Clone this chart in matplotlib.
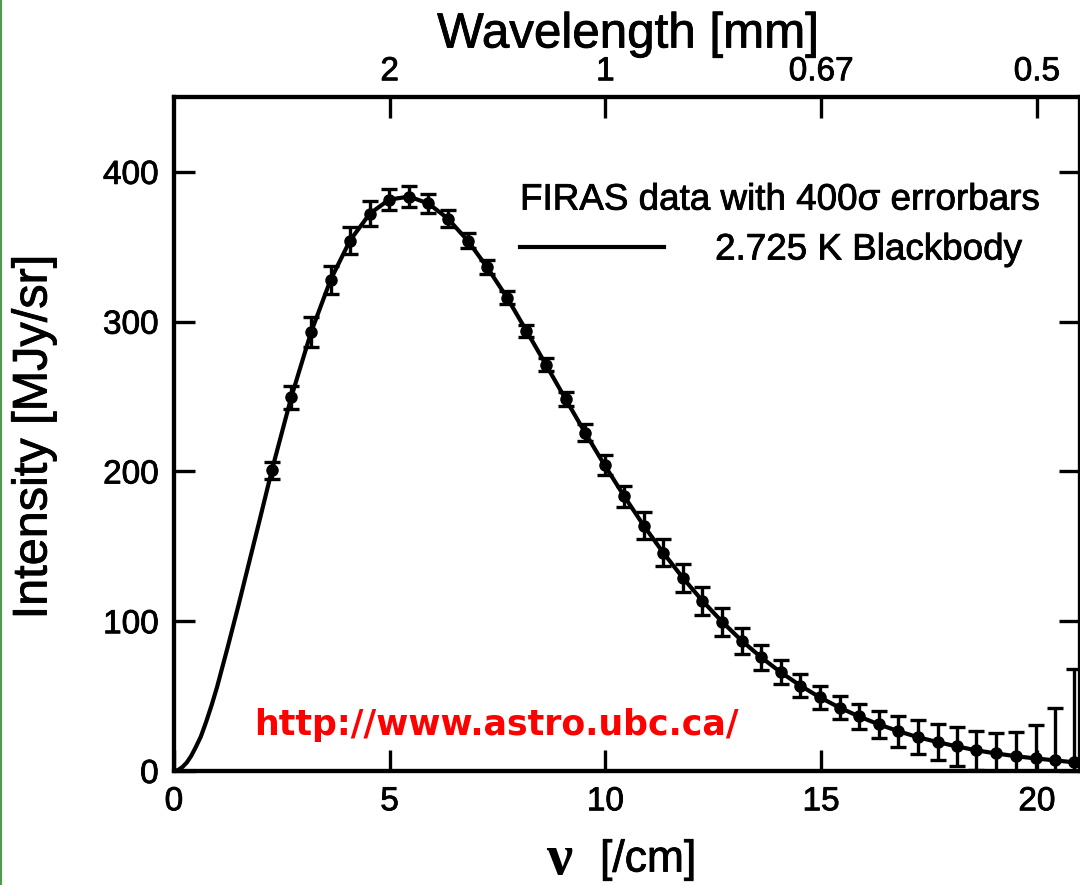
import matplotlib
matplotlib.use("Agg")
import matplotlib.pyplot as plt
import matplotlib.patheffects as pe
from matplotlib.lines import Line2D

# ── Data ───────────────────────────────────────────────────────────
# FIRAS monopole spectrum, frequency in 1/cm, intensity in MJy/sr
nu = [2.27, 2.72, 3.18, 3.63, 4.08, 4.54, 4.99, 5.45, 5.90, 6.35, 6.81,
      7.26, 7.72, 8.17, 8.62, 9.08, 9.53, 9.98, 10.44, 10.89, 11.34,
      11.80, 12.25, 12.71, 13.16, 13.61, 14.07, 14.52, 14.97, 15.43,
      15.88, 16.34, 16.79, 17.24, 17.70, 18.15, 18.60, 19.06, 19.51,
      19.97, 20.42, 20.87, 21.33]
intensity = [200.7, 249.5, 293.0, 327.8, 354.1, 372.1, 381.5, 383.5,
             378.9, 368.8, 354.1, 336.3, 316.1, 293.9, 271.4, 248.2,
             225.9, 204.3, 183.3, 163.8, 145.8, 128.8, 113.6, 99.5,
             87.0, 75.9, 65.8, 57.0, 49.2, 42.3, 36.4, 31.1, 26.6,
             22.6, 19.3, 16.4, 13.8, 11.7, 9.9, 8.4, 7.1, 5.8, 4.5]
# 400 sigma error bars, MJy/sr
err_400sigma = [5.6, 7.6, 10.0, 9.2, 8.8, 8.4, 7.2, 7.2, 6.4, 5.6, 5.2,
                4.8, 4.4, 4.0, 4.4, 4.8, 5.6, 6.4, 7.2, 8.8, 8.8, 9.2,
                9.2, 9.2, 8.8, 8.4, 8.0, 7.6, 7.6, 7.6, 8.4, 9.2, 10.4,
                11.2, 12.0, 12.8, 13.2, 14.0, 16.4, 22.0, 35.2, 62.0, 112.8]

# blackbody line below the first data point
nu_bb_low = [0.0, 0.1, 0.2, 0.3, 0.4, 0.5, 0.625, 0.75, 0.875, 1.0,
             1.25, 1.5, 1.75, 2.0]
i_bb_low = [0, 0.7, 2.7, 5.7, 10, 15.5, 23, 33, 44, 56,
            83, 111, 140, 169]

x_ticks = [0, 5, 10, 15, 20]
y_ticks = [0, 100, 200, 300, 400]
wl_tick_nu = [5, 10, 15, 20]
wl_labels = ["2", "1", "0.67", "0.5"]

FONT = "Liberation Sans"
plt.rcParams["font.family"] = FONT
THICK = [pe.withStroke(linewidth=0.6, foreground="black")]

fig = plt.figure(figsize=(10.8, 8.85), dpi=100)
ax = fig.add_axes([0.161, 0.1288, 0.839, 0.7616])

# ── Curve + data ──────────────────────────────────────────────────
curve, = ax.plot(nu_bb_low + nu, i_bb_low + intensity, color="k", lw=3.0,
                 label="2.725 K Blackbody", zorder=2)
ax.errorbar(nu, intensity, yerr=err_400sigma, fmt="o", color="k", ms=8,
            elinewidth=2.4, capsize=6, capthick=2.4, zorder=3)

ax.set_xlim(0, 21.0)
ax.set_ylim(0, 450)
ax.set_xticks(x_ticks)
ax.set_yticks(y_ticks)
ax.tick_params(direction="in", length=15, width=2.4, labelsize=24,
               pad=11, right=True, top=False)
for sp in ax.spines.values():
    sp.set_linewidth(3.0)

# ── Top wavelength axis ───────────────────────────────────────────
top = ax.twiny()
top.set_xlim(ax.get_xlim())
top.set_xticks(wl_tick_nu)
top.set_xticklabels(wl_labels)
top.tick_params(direction="in", length=15, width=2.4, labelsize=24, pad=7)
for sp in top.spines.values():
    sp.set_linewidth(3.0)

for lab in ax.get_xticklabels() + ax.get_yticklabels() + top.get_xticklabels():
    lab.set_path_effects(THICK)

# ── Labels ────────────────────────────────────────────────────────
fig.text(628 / 1080, 1 - 35 / 885, "Wavelength [mm]", fontsize=35.5,
         ha="center", va="center", path_effects=THICK)
fig.text(34 / 1080, 1 - 437 / 885, "Intensity [MJy/sr]", fontsize=35,
         rotation=90, ha="center", va="center", path_effects=THICK)
fig.text(559 / 1080, 1 - 860 / 885, "ν", fontsize=42, fontweight="bold",
         family="Liberation Serif", ha="center", va="center")
fig.text(600 / 1080, 1 - 860 / 885, "[/cm]", fontsize=32,
         ha="left", va="center", path_effects=THICK)

# ── Legend ────────────────────────────────────────────────────────
ax.text(0.382, 0.847, "FIRAS data with 400σ errorbars", fontsize=26.5,
        transform=ax.transAxes, ha="left", va="center", path_effects=THICK)
leg = ax.legend(handles=[curve], loc="center left",
                bbox_to_anchor=(0.382, 0.773), frameon=False, fontsize=26.5,
                handlelength=3.9, handletextpad=1.4, borderpad=0,
                borderaxespad=0)
for t in leg.get_texts():
    t.set_path_effects(THICK)

ax.text(0.3565, 0.068, "http://www.astro.ubc.ca/", fontsize=25,
        fontweight="bold", family="DejaVu Sans", color="#ff0000",
        transform=ax.transAxes, ha="center", va="center")

# thin green frame line at the left edge
fig.add_artist(Line2D([0.0008, 0.0008], [0, 1], transform=fig.transFigure,
                      color="#4f9a4f", lw=1.5))

fig.savefig("out.png", dpi=100)
